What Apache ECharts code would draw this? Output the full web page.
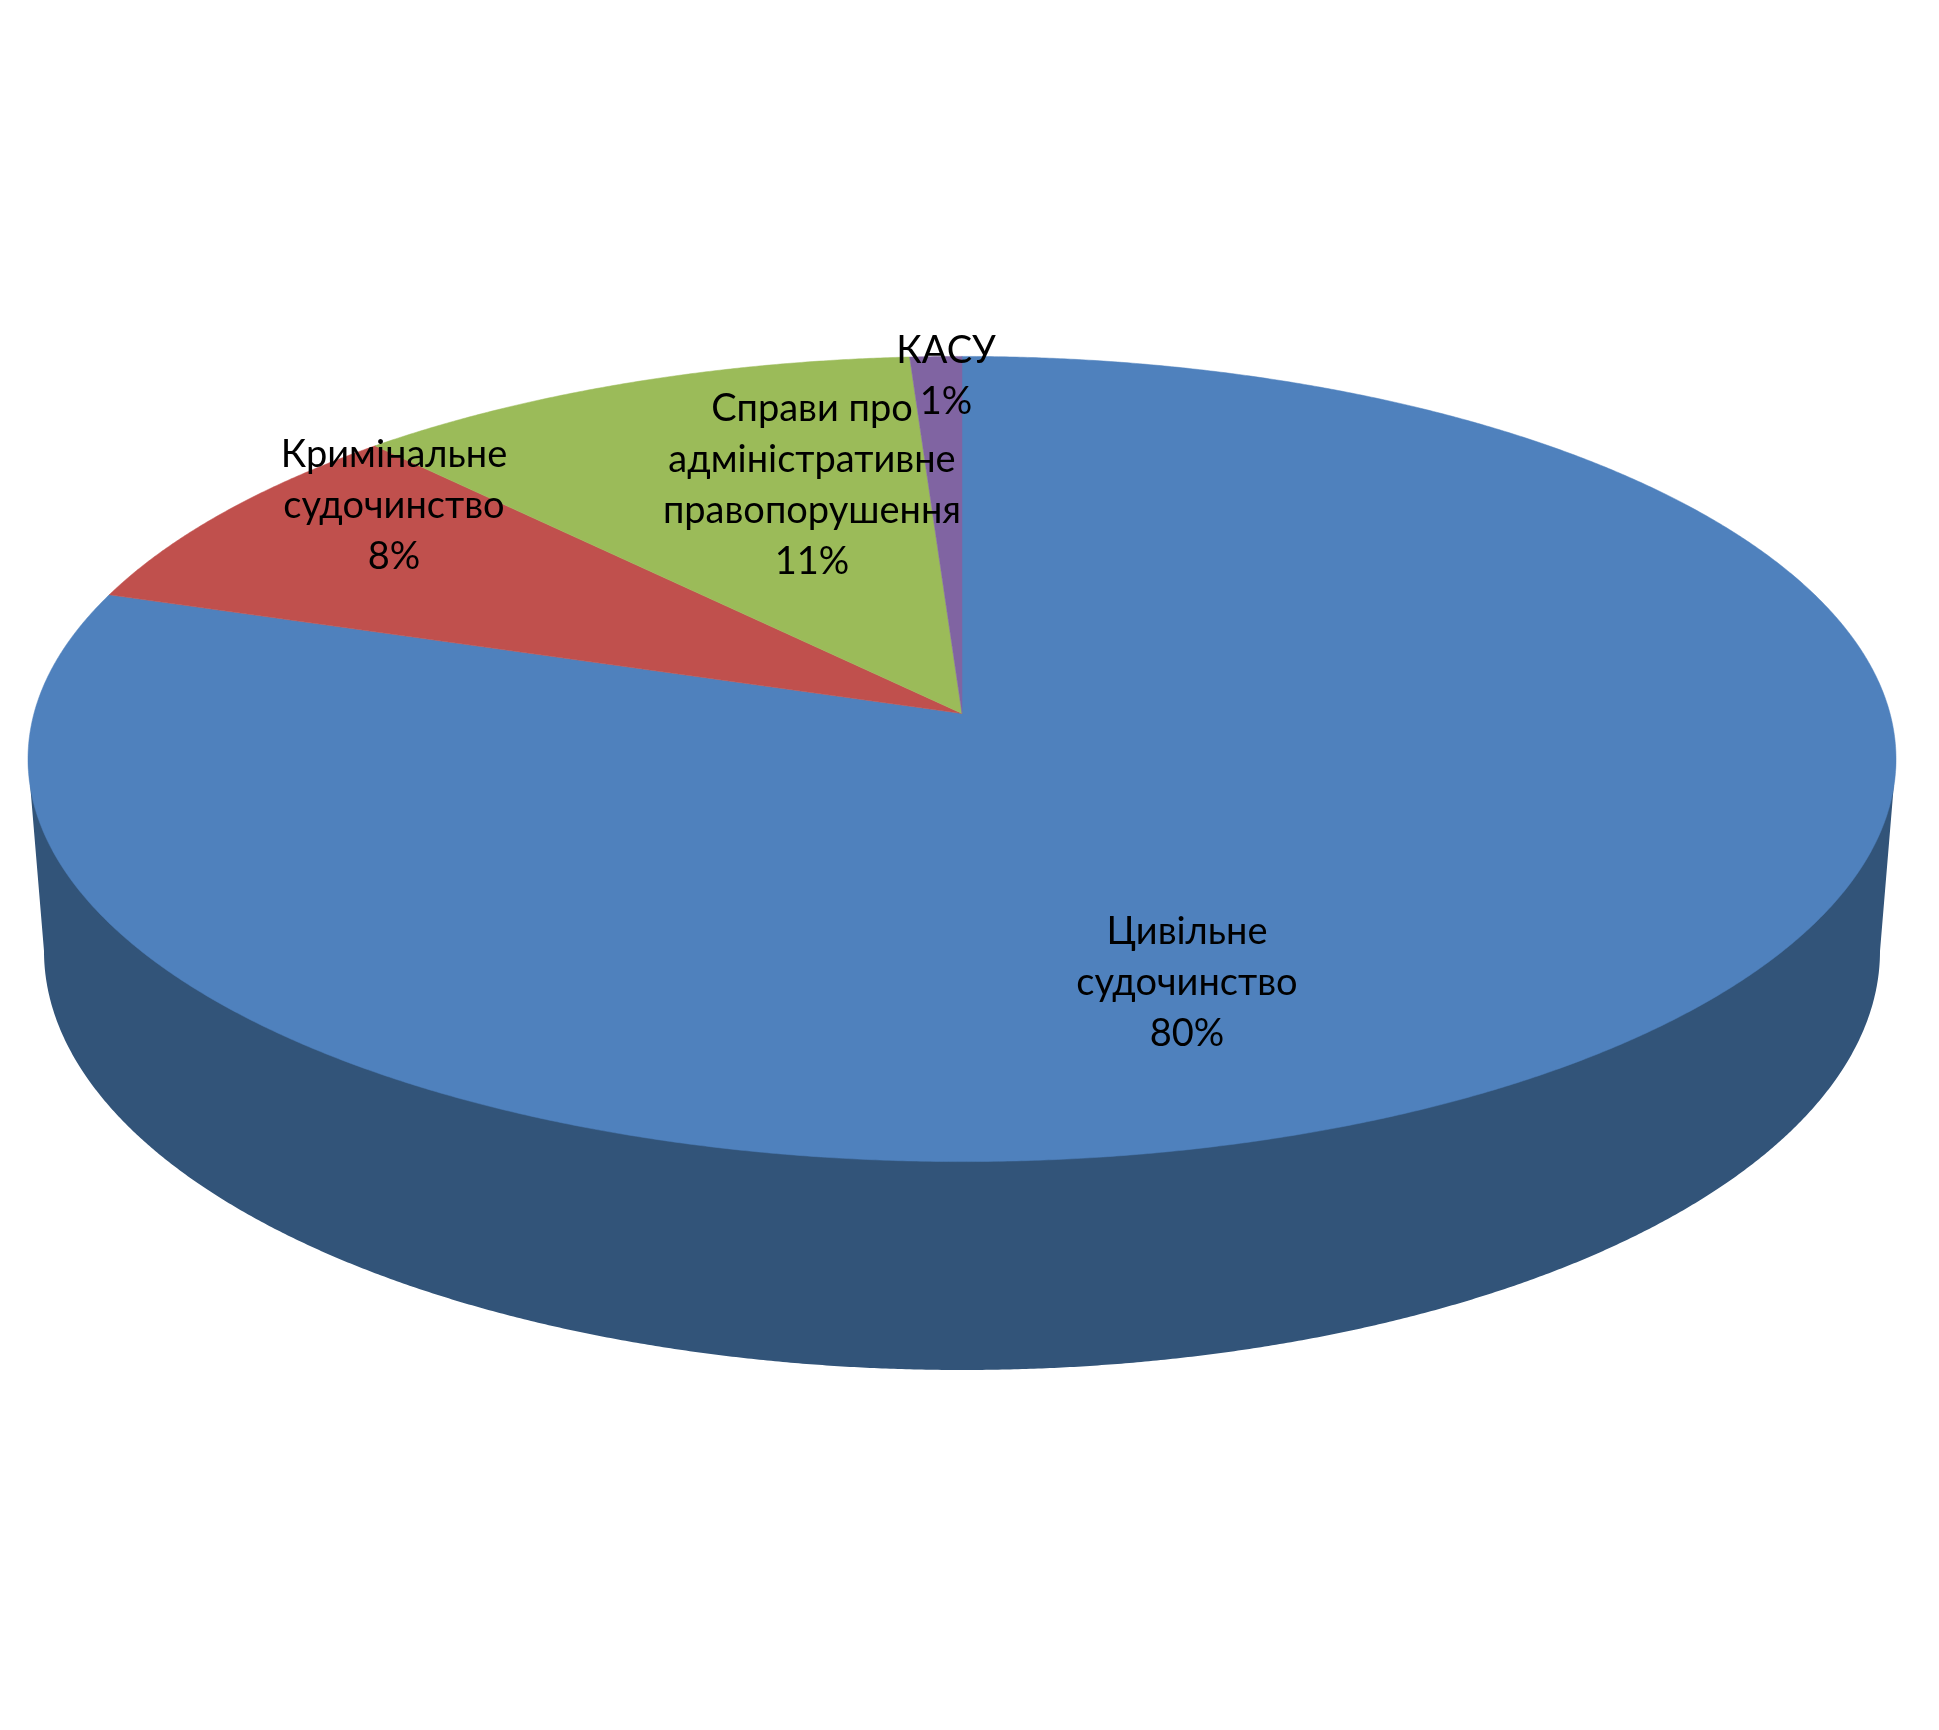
<!DOCTYPE html>
<html>
<head>
<meta charset="utf-8">
<style>html,body{margin:0;padding:0;background:#fff}#c{width:1939px;height:1730px}</style>
<script src="https://cdn.jsdelivr.net/npm/echarts@6/dist/echarts.min.js"></script>
</head>
<body>
<div id="c"></div>
<script>
// Data
const categories = ['Цивільне\nсудочинство', 'Кримінальне\nсудочинство', 'Справи про\nадміністративне\nправопорушення', 'КАСУ'];
const values = [80, 8, 11, 1];

// Styles and layout, kept apart from the data
const colors = ['#4f81bd', '#c0504d', '#9bbb59', '#8064a2'];
const wallColor = '#325479';
const labelCentres = [[1187, 983], [394, 506], [812, 485], [946, 376]];
const top3d = {cx: 962, cy: 759, a: 934, b: 402.6, apexY: 713.5};
const bottom3d = {cx: 962, cy: 951, a: 918, b: 419};
const FONT = 'Lato, Carlito, "Noto Sans", sans-serif';
const FONT_SIZE = 38, LINE_H = 51;

const total = values.reduce((s, v) => s + v, 0);
const persp = (top3d.cy - top3d.apexY) / top3d.b;
const rootTerm = Math.sqrt(1 - persp * persp);

// Project a pie angle (clockwise from 12 o'clock) on the tilted disc
function rim(angle) {
  const u = Math.sin(angle), v = Math.cos(angle), d = 1 + persp * v;
  return [top3d.cx + top3d.a * u * rootTerm / d, top3d.cy - top3d.b * (v + persp) / d];
}
function slicePoints(start, end) {
  const pts = [[top3d.cx, top3d.apexY]];
  const n = Math.max(2, Math.ceil((end - start) / (Math.PI / 720)));
  for (let i = 0; i <= n; i++) pts.push(rim(start + (end - start) * i / n));
  return pts;
}
function wallPoints() {
  const pts = [[top3d.cx - top3d.a, top3d.cy]];
  for (let i = 0; i <= 720; i++) {
    const t = Math.PI * i / 720;
    pts.push([bottom3d.cx - bottom3d.a * Math.cos(t), bottom3d.cy + bottom3d.b * Math.sin(t)]);
  }
  pts.push([top3d.cx + top3d.a, top3d.cy]);
  return pts;
}

function renderSlice(params, api) {
  const idx = params.dataIndex;
  let before = 0;
  for (let i = 0; i < idx; i++) before += values[i];
  const start = before / total * 2 * Math.PI;
  const end = (before + api.value(0)) / total * 2 * Math.PI;
  const children = [];
  if (idx === 0) {
    children.push({type: 'polygon', shape: {points: wallPoints()}, style: {fill: wallColor}, z2: 0});
  }
  children.push({
    type: 'polygon', shape: {points: slicePoints(start, end)},
    style: {fill: colors[idx], stroke: colors[idx], lineWidth: 0.5}, z2: 1 + idx
  });
  children.push({
    type: 'text', z2: 20, x: labelCentres[idx][0], y: labelCentres[idx][1],
    style: {
      text: categories[idx] + '\n' + api.value(0) + '%',
      fill: '#000', font: FONT_SIZE + 'px ' + FONT, lineHeight: LINE_H,
      align: 'center', verticalAlign: 'middle'
    }
  });
  return {type: 'group', children};
}

const chart = echarts.init(document.getElementById('c'), null, {renderer: 'canvas'});
chart.setOption({
  animation: false,
  backgroundColor: '#ffffff',
  series: [{
    type: 'custom',
    coordinateSystem: 'none',
    renderItem: renderSlice,
    data: values.map(v => [v])
  }]
});
</script>
</body>
</html>
